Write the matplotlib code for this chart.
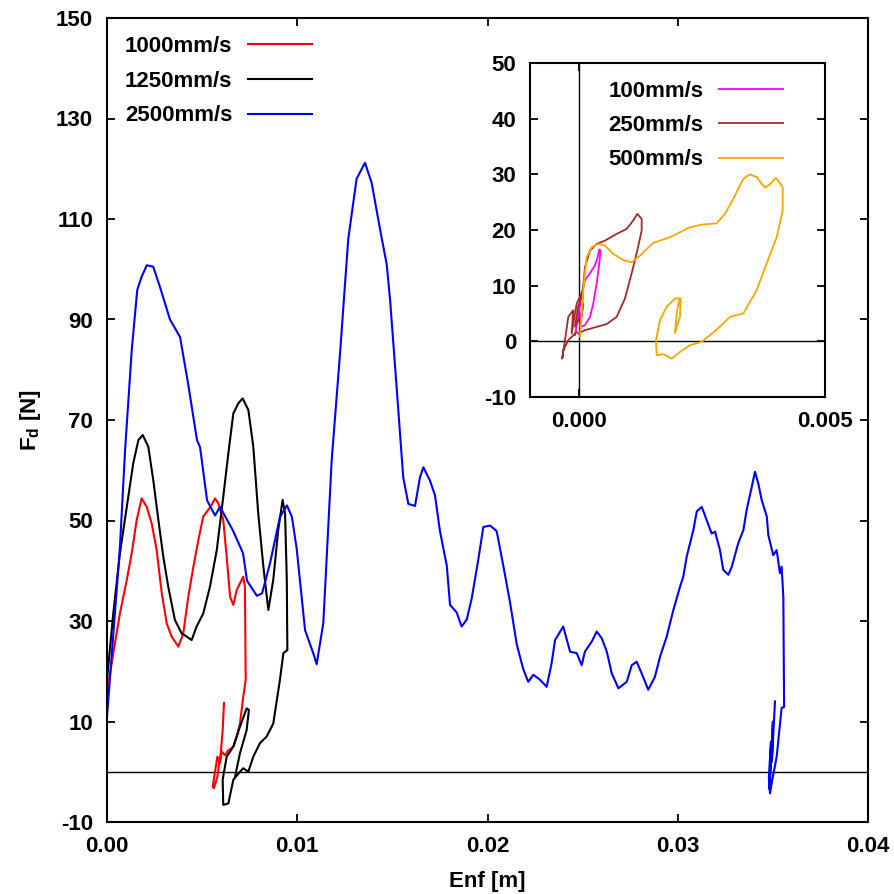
import numpy as np
import matplotlib
matplotlib.use("Agg")
import matplotlib.pyplot as plt

plt.rcParams["font.family"] = ["Liberation Sans", "DejaVu Sans"]
plt.rcParams["font.weight"] = "bold"
plt.rcParams["axes.labelweight"] = "bold"
plt.rcParams["axes.unicode_minus"] = False
plt.rcParams["mathtext.fontset"] = "custom"
plt.rcParams["mathtext.rm"] = "Liberation Sans:bold"
plt.rcParams["mathtext.bf"] = "Liberation Sans:bold"
plt.rcParams["mathtext.default"] = "bf"

# --- main plot data (Enf [m], Fd [N]) ---
x_1000 = [0.0, 0.00033, 0.00068, 0.00104, 0.0013, 0.00156, 0.00182, 0.00209, 0.00235, 0.00261,
          0.00288, 0.00314, 0.0034, 0.00375, 0.00401, 0.00427, 0.00454, 0.0048, 0.00506, 0.00532,
          0.0055, 0.00568, 0.00585, 0.00611, 0.00629, 0.00647, 0.00664, 0.00682, 0.00699, 0.00716,
          0.00725, 0.00729, 0.00716, 0.00699, 0.00682, 0.00664, 0.00655, 0.00638, 0.0062, 0.00603,
          0.00594, 0.0058, 0.00568, 0.00555, 0.00562, 0.0058, 0.0059, 0.00598, 0.00608, 0.00615]
y_1000 = [15.6, 23.6, 31.5, 38.2, 43.5, 50.1, 54.4, 52.7, 49.4, 44.1,
          35.5, 29.5, 26.9, 24.9, 27.5, 34.8, 40.8, 46.1, 50.8, 52.1,
          53.1, 54.4, 53.4, 50.1, 42.8, 34.8, 33.2, 36.2, 37.5, 38.8,
          36.8, 18.3, 14.9, 9.6, 7.0, 5.0, 4.7, 4.3, 3.3, 4.0,
          1.7, 3.0, 0.0, -3.0, -3.3, -1.0, 1.7, 3.7, 8.3, 13.7]

x_1250 = [0.0, 0.00033, 0.00068, 0.00104, 0.00138, 0.00165, 0.00188, 0.00217, 0.00243, 0.0027,
          0.00296, 0.00322, 0.00357, 0.00393, 0.00419, 0.00445, 0.00471, 0.00506, 0.00541, 0.00577,
          0.00611, 0.00638, 0.00664, 0.0069, 0.00713, 0.00743, 0.00769, 0.00795, 0.00822, 0.00848,
          0.00874, 0.009, 0.00923, 0.00936, 0.00945, 0.00948, 0.00927, 0.00909, 0.00874, 0.00839,
          0.00804, 0.00769, 0.00743, 0.00716, 0.00699, 0.00664, 0.00638, 0.00611, 0.00608, 0.00629,
          0.00664, 0.00699, 0.00734, 0.00746, 0.00734, 0.00699, 0.00673]
y_1250 = [18.3, 31.5, 43.5, 52.7, 61.4, 66.0, 67.0, 64.7, 58.1, 50.1,
          42.8, 36.8, 30.2, 27.5, 26.9, 26.2, 28.9, 31.5, 36.8, 44.1,
          54.7, 63.4, 71.3, 73.3, 74.3, 72.0, 64.7, 51.4, 40.8, 32.2,
          38.2, 48.1, 54.1, 51.4, 38.2, 24.2, 23.6, 18.3, 9.6, 7.0,
          5.7, 3.0, 0.0, 0.7, 0.0, -1.6, -6.3, -6.6, -1.6, 3.0,
          5.0, 9.0, 12.6, 12.3, 8.3, 3.7, -1.0]

x_2500 = [0.0, 0.00068, 0.00095, 0.0013, 0.00159, 0.00182, 0.00209, 0.00243, 0.00279, 0.00331,
          0.00384, 0.00426, 0.00473, 0.00489, 0.00526, 0.00568, 0.00594, 0.00662, 0.00715, 0.00736,
          0.00788, 0.00815, 0.00857, 0.00909, 0.00946, 0.00972, 0.00997, 0.01041, 0.01084, 0.01102,
          0.01137, 0.01181, 0.01225, 0.01268, 0.01312, 0.01356, 0.01391, 0.01435, 0.0147, 0.01488,
          0.01523, 0.01557, 0.01584, 0.01619, 0.01645, 0.01663, 0.01698, 0.01724, 0.0175, 0.01786,
          0.01803, 0.01838, 0.01864, 0.01891, 0.01917, 0.01952, 0.01978, 0.02013, 0.02048, 0.02083,
          0.02118, 0.02154, 0.02188, 0.02214, 0.02241, 0.02276, 0.02311, 0.02337, 0.02355, 0.02398,
          0.02434, 0.02469, 0.02495, 0.02512, 0.02548, 0.02574, 0.026, 0.02627, 0.02653, 0.02688,
          0.02732, 0.02758, 0.02784, 0.0281, 0.02845, 0.0288, 0.02907, 0.02942, 0.02977, 0.03012,
          0.03029, 0.03047, 0.03082, 0.031, 0.03126, 0.03152, 0.03178, 0.03196, 0.03222, 0.03239,
          0.03266, 0.03284, 0.03318, 0.03345, 0.03362, 0.03389, 0.03406, 0.03423, 0.03441, 0.03468,
          0.03476, 0.03502, 0.0352, 0.03537, 0.03546, 0.03555, 0.03559, 0.03546, 0.0352, 0.03495,
          0.03485, 0.03479, 0.0349, 0.03483, 0.035, 0.03495, 0.03511]
y_2500 = [10.9, 44.7, 64.0, 83.9, 95.9, 98.5, 100.8, 100.5, 96.4, 90.0,
          86.5, 77.3, 66.0, 64.6, 54.0, 51.0, 52.7, 48.0, 43.5, 38.0,
          35.0, 35.5, 41.5, 50.7, 53.0, 50.7, 44.4, 28.2, 23.6, 21.4,
          29.6, 62.0, 83.3, 106.0, 118.0, 121.2, 117.2, 108.0, 101.0, 93.9,
          76.2, 58.6, 53.3, 52.9, 58.6, 60.6, 57.9, 55.0, 47.9, 41.0,
          33.2, 31.7, 28.9, 30.3, 34.5, 42.3, 48.7, 49.0, 47.9, 41.0,
          33.8, 25.3, 20.4, 17.9, 19.3, 18.3, 16.9, 21.6, 26.2, 28.9,
          23.9, 23.6, 21.2, 23.9, 25.9, 27.9, 26.6, 23.9, 19.6, 16.6,
          17.9, 21.2, 21.9, 19.6, 16.3, 18.9, 22.9, 26.9, 32.2, 36.8,
          38.8, 42.8, 48.1, 51.8, 52.7, 50.1, 47.4, 47.8, 44.1, 40.2,
          39.2, 40.8, 45.5, 48.1, 52.1, 56.7, 59.7, 57.4, 54.1, 50.8,
          47.1, 43.1, 44.1, 39.5, 40.8, 34.8, 12.9, 12.7, 3.0, -2.0,
          -4.3, -1.0, 6.0, -3.5, 10.0, 2.0, 14.0]

# --- inset data (x in units of 1e-3 m) ---
x_100 = [-0.085, -0.02, 0.05, 0.118, 0.22, 0.321, 0.376, 0.409, 0.436, 0.409,
         0.356, 0.287, 0.22, 0.118, 0.016, 0.05, 0.084, 0.03]
y_100 = [1.1, 4.4, 8.6, 11.0, 12.2, 13.7, 15.1, 16.5, 16.3, 14.0,
         10.4, 6.8, 4.4, 2.9, 2.6, 5.0, 6.8, 3.2]

x_250 = [-0.05, -0.221, -0.323, -0.344, -0.289, -0.221, -0.12, -0.153, -0.05, 0.016,
         0.084, 0.05, -0.085, -0.02, 0.07, 0.118, 0.22, 0.356, 0.525, 0.763,
         0.966, 1.1, 1.182, 1.271, 1.271, 1.182, 1.067, 0.931, 0.763, 0.559,
         0.356, 0.118, -0.02]
y_250 = [1.7, 0.2, -1.6, -3.1, 0.2, 4.4, 5.6, 1.4, 6.8, 8.0,
         9.2, 5.0, 2.6, 6.2, 8.6, 13.3, 16.3, 17.5, 18.1, 19.3,
         20.2, 21.7, 22.9, 22.0, 19.9, 16.3, 12.2, 7.7, 4.4, 3.1,
         2.6, 2.0, 1.4]

x_500 = [0.016, 0.084, 0.152, 0.254, 0.389, 0.525, 0.694, 0.897, 1.067, 1.237,
         1.507, 1.847, 2.253, 2.524, 2.796, 2.965, 3.134, 3.338, 3.474, 3.61,
         3.779, 3.88, 4.002, 4.139, 4.139, 4.017, 3.813, 3.61, 3.338, 3.067,
         2.796, 2.491, 2.253, 2.05, 1.881, 1.711, 1.576, 1.562, 1.643, 1.779,
         1.948, 2.064, 2.05, 1.983, 1.948, 1.983, 2.036]
y_500 = [0.8, 9.2, 15.1, 16.9, 17.5, 17.2, 15.7, 14.6, 14.2, 15.4,
         17.7, 18.7, 20.5, 21.0, 21.2, 22.9, 25.6, 29.2, 30.0, 29.5,
         27.6, 28.2, 29.4, 27.7, 23.5, 18.7, 14.0, 9.2, 5.0, 4.4,
         2.1, -0.1, -0.7, -1.9, -3.1, -2.3, -2.5, 0.2, 3.8, 6.2,
         7.7, 7.7, 4.4, 2.6, 1.5, 5.0, 7.4]

FS = 16
W, H = 895, 894
fig = plt.figure(figsize=(W / 100, H / 100), dpi=100)


def px_axes(l, t, r, b):
    return fig.add_axes([l / W, 1 - b / H, (r - l) / W, (b - t) / H])


def style(ax):
    for s in ax.spines.values():
        s.set_linewidth(1.5)
    ax.tick_params(direction="in", length=6, width=1.3, top=True, right=True,
                   labelsize=FS, pad=10)


ax = px_axes(107, 18, 868, 822)
ax.axhline(0, color="black", lw=1.0)
ax.plot(x_1000, y_1000, color="#ff0000", lw=1.5, label="1000mm/s")
ax.plot(x_1250, y_1250, color="black", lw=1.5, label="1250mm/s")
ax.plot(x_2500, y_2500, color="#0000ff", lw=1.5, label="2500mm/s")
ax.set_xlim(0, 0.04)
ax.set_ylim(-10, 150)
ax.set_xticks(np.arange(0, 0.041, 0.01))
ax.set_xticklabels(["0.00", "0.01", "0.02", "0.03", "0.04"])
ax.set_yticks(np.arange(-10, 151, 20))
style(ax)
ax.set_xlabel("Enf [m]", fontsize=FS, labelpad=10)
ax.set_ylabel(r"F$_\mathbf{d}$ [N]", fontsize=FS, labelpad=9)
ax.legend(loc="upper left", bbox_to_anchor=(0.0, 1.0), frameon=False, markerfirst=False,
          fontsize=FS, handlelength=2.9, handletextpad=0.7, labelspacing=0.62, borderaxespad=0.4)

ins = px_axes(530, 63, 825, 397)
ins.axhline(0, color="black", lw=1.0)
ins.axvline(0, color="black", lw=1.0)
ins.plot(np.array(x_100) * 1e-3, y_100, color="#ff00ff", lw=1.3, label="100mm/s")
ins.plot(np.array(x_250) * 1e-3, y_250, color="#a52a2a", lw=1.3, label="250mm/s")
ins.plot(np.array(x_500) * 1e-3, y_500, color="#ffa500", lw=1.3, label="500mm/s")
ins.set_xlim(-0.001, 0.005)
ins.set_ylim(-10, 50)
ins.set_xticks([0.0, 0.005])
ins.set_xticklabels(["0.000", "0.005"])
ins.set_yticks(np.arange(-10, 51, 10))
style(ins)
ins.legend(loc="upper left", bbox_to_anchor=(0.205, 1.0), frameon=False, markerfirst=False,
           fontsize=FS, handlelength=2.9, handletextpad=0.7, labelspacing=0.6, borderaxespad=0.4)

fig.savefig("out.png", dpi=100)
